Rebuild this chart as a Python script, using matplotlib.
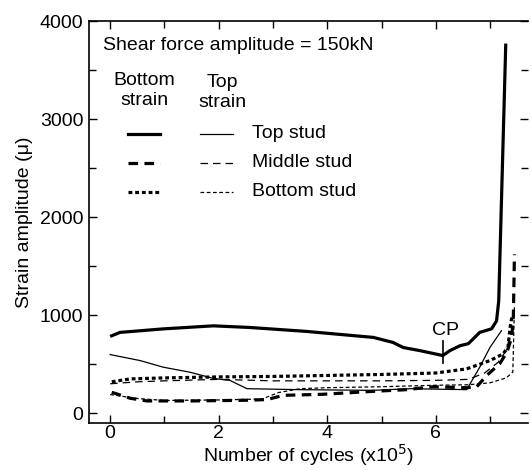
import numpy as np
import matplotlib
matplotlib.use('Agg')
import matplotlib.pyplot as plt
from matplotlib.lines import Line2D

plt.rcParams['font.family'] = ['Liberation Sans', 'DejaVu Sans']

# bottom strain, top stud (thick solid)
bt_x = [0, 0.18, 0.98, 1.9, 2.58, 3.62, 4.85, 5.21, 5.4, 5.71, 6.13, 6.26, 6.45, 6.6, 6.81, 7.03, 7.12, 7.16, 7.29]
bt_y = [783, 824, 860, 891, 874, 834, 773, 722, 670, 638, 588, 638, 689, 709, 824, 861, 942, 1145, 3770]
# top strain, top stud (thin solid)
tt_x = [0, 0.55, 0.98, 1.47, 1.9, 2.21, 2.52, 3.5, 4.85, 5.52, 6.57, 6.81, 7.0, 7.21]
tt_y = [598, 537, 469, 418, 355, 334, 250, 240, 233, 250, 240, 469, 672, 841]
# bottom strain, middle stud (thick dashed)
bm_x = [0.03, 0.37, 0.68, 1.5, 2.52, 2.89, 3.19, 3.92, 4.85, 5.46, 5.95, 6.57, 6.75, 6.94, 7.18, 7.31, 7.4, 7.43, 7.45]
bm_y = [213, 152, 125, 125, 132, 139, 182, 193, 223, 240, 270, 260, 267, 385, 506, 621, 773, 1000, 1620]
# top strain, middle stud (thin dashed)
tm_x = [0, 0.5, 1, 2, 3, 4, 5, 6, 6.6, 6.9, 7.15, 7.3, 7.38]
tm_y = [300, 320, 330, 345, 330, 330, 330, 335, 345, 410, 520, 640, 820]
# bottom strain, bottom stud (thick dotted)
bb_x = [0.03, 0.37, 1, 2, 3, 4, 5, 6, 6.57, 7.0, 7.24, 7.33, 7.37, 7.4]
bb_y = [320, 350, 360, 370, 375, 385, 395, 410, 452, 537, 605, 672, 874, 976]
# top strain, bottom stud (thin fine dashed)
tb_x = [0, 0.5, 1, 2, 2.8, 3.1, 3.5, 4, 5, 6, 6.6, 7.0, 7.3, 7.42, 7.45]
tb_y = [190, 150, 130, 135, 145, 210, 250, 260, 270, 285, 290, 310, 360, 420, 1100]

cp_x = 6.13
cp_y = 588

fig = plt.figure(figsize=(5.31, 4.7), dpi=100)
ax = fig.add_axes([0.1676, 0.1, 0.8268, 0.8553])

thick = 2.3
thin = 0.9
ax.plot(bt_x, bt_y, color='black', lw=thick, solid_capstyle='butt')
ax.plot(tt_x, tt_y, color='black', lw=thin)
ax.plot(bm_x, bm_y, color='black', lw=thick, dashes=(3, 2))
ax.plot(tm_x, tm_y, color='black', lw=thin, dashes=(6, 4))
ax.plot(bb_x, bb_y, color='black', lw=thick, dashes=(1.2, 0.9))
ax.plot(tb_x, tb_y, color='black', lw=thin, dashes=(3, 2))

# CP marker
ax.plot([cp_x, cp_x], [cp_y - 75, cp_y + 145], color='black', lw=1.2)
ax.text(cp_x + 0.05, cp_y + 170, 'CP', fontsize=14, ha='center', va='bottom')

ax.set_xlim(-0.39, 7.70)
ax.set_ylim(-100, 4000)
ax.set_xticks([0, 2, 4, 6])
ax.set_xticks([1, 3, 5, 7], minor=True)
ax.set_yticks([0, 1000, 2000, 3000, 4000])
ax.set_yticks([500, 1500, 2500, 3500], minor=True)
ax.tick_params(which='both', direction='in', top=True, right=True, labelsize=14, width=1)
ax.tick_params(which='major', length=6)
ax.tick_params(which='minor', length=5)
ax.tick_params(axis='x', which='major', pad=1.5)
ax.tick_params(axis='y', which='major', pad=4)
ax.spines['right'].set_visible(False)
for s in ['left', 'bottom', 'top']:
    ax.spines[s].set_linewidth(1.2)

ax.set_xlabel('Number of cycles (x10$^5$)', fontsize=14, labelpad=0)
ax.set_ylabel('Strain amplitude (\u03bc)', fontsize=14, labelpad=5)

# legend drawn by hand
tr = ax.transAxes
ax.text(0.032, 0.940, 'Shear force amplitude = 150kN', transform=tr, fontsize=14, va='center')
ax.text(0.126, 0.828, 'Bottom\nstrain', transform=tr, fontsize=14, ha='center', va='center', linespacing=1.25)
ax.text(0.303, 0.823, 'Top\nstrain', transform=tr, fontsize=14, ha='center', va='center', linespacing=1.25)
rows = [(0.719, 'Top stud', dict(lw=thick), dict(lw=thin)),
        (0.647, 'Middle stud', dict(lw=thick, dashes=(3, 2)), dict(lw=thin, dashes=(6, 4))),
        (0.575, 'Bottom stud', dict(lw=thick, dashes=(1.2, 0.9)), dict(lw=thin, dashes=(3, 2)))]
for yy, lab, st1, st2 in rows:
    ax.add_line(Line2D([0.089, 0.162], [yy, yy], transform=tr, color='black', **st1))
    ax.add_line(Line2D([0.253, 0.328], [yy, yy], transform=tr, color='black', **st2))
    ax.text(0.371, yy, lab, transform=tr, fontsize=14, va='center')

fig.savefig('out.png', dpi=100)
